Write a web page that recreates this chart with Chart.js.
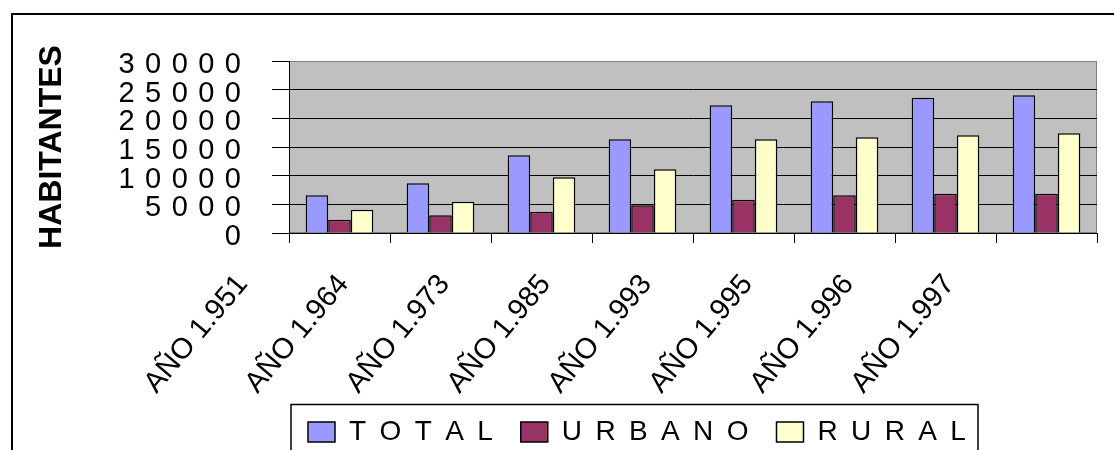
<!DOCTYPE html>
<html>
<head>
<meta charset="utf-8">
<script src="https://cdn.jsdelivr.net/npm/chart.js@4"></script>
<style>
  body { margin: 0; background: #fff; }
</style>
</head>
<body>
<canvas id="chart" width="1114" height="450"></canvas>
<script>
// categories and series
const years = ['AÑO 1.951', 'AÑO 1.964', 'AÑO 1.973', 'AÑO 1.985', 'AÑO 1.993', 'AÑO 1.995', 'AÑO 1.996', 'AÑO 1.997'];
const total = [6570, 8660, 13550, 16340, 22270, 22970, 23600, 24010];
const urbano = [2330, 3080, 3720, 4830, 5810, 6570, 6860, 6860];
const rural = [4070, 5470, 9710, 11100, 16340, 16690, 17030, 17380];
const seriesNames = ['TOTAL', 'URBANO', 'RURAL'];
const yMax = 30000;
const yStep = 5000;
const yTitle = 'HABITANTES';

const FONT = "Arial, 'Liberation Sans', sans-serif";
Chart.defaults.font.family = FONT;
Chart.defaults.color = '#000';

// Excel draws these labels with wide character spacing
const spaced = (s, gap) => String(s).split('').join(gap);

// gray plot area, outer frame and legend frame
const frame = {
  id: 'frame',
  beforeDraw(chart) {
    const { ctx, chartArea: a } = chart;
    ctx.save();
    ctx.fillStyle = '#fff';
    ctx.fillRect(0, 0, chart.width, chart.height);
    ctx.fillStyle = '#c0c0c0';
    ctx.fillRect(a.left, a.top, a.right - a.left, a.bottom - a.top);
    ctx.strokeStyle = '#808080';
    ctx.lineWidth = 1;
    ctx.strokeRect(a.left + 0.5, a.top + 0.5, a.right - a.left - 1, a.bottom - a.top - 1);
    ctx.restore();
  },
  afterLayout(chart) {
    // the legend sits left of centre and overlaps the label band in the original
    const lg = chart.legend;
    const h = lg.bottom - lg.top;
    lg.left = 280;
    lg.top = 390;
    lg.bottom = 390 + h;
  },
  afterDraw(chart) {
    const ctx = chart.ctx;
    ctx.save();
    ctx.strokeStyle = '#000';
    ctx.lineWidth = 2;
    ctx.strokeRect(12, 14, 1120, 470);
    ctx.lineWidth = 1.5;
    ctx.strokeRect(291, 404.5, 687, 80);
    ctx.restore();
  }
};

const ctx = document.getElementById('chart').getContext('2d');
new Chart(ctx, {
  type: 'bar',
  data: {
    labels: years,
    datasets: [
      { label: seriesNames[0], data: total, backgroundColor: '#9999ff' },
      { label: seriesNames[1], data: urbano, backgroundColor: '#993366' },
      { label: seriesNames[2], data: rural, backgroundColor: '#ffffcc' }
    ]
  },
  options: {
    responsive: false,
    animation: false,
    layout: { padding: { left: 0, top: 61, right: 17, bottom: -30 } },
    datasets: {
      bar: {
        borderColor: '#000',
        borderWidth: 1.5,
        categoryPercentage: 0.67,
        barPercentage: 1.0
      }
    },
    plugins: {
      tooltip: { enabled: false },
      legend: {
        position: 'bottom',
        align: 'start',
        labels: {
          boxWidth: 27,
          boxHeight: 20,
          padding: 28,
          font: { size: 28 },
          color: '#000',
          generateLabels(chart) {
            const items = Chart.defaults.plugins.legend.labels.generateLabels(chart);
            items.forEach(it => { it.text = spaced(it.text, ' \u2009'); });
            return items;
          }
        }
      }
    },
    scales: {
      x: {
        grid: { drawOnChartArea: false, color: '#000', tickLength: 10, offset: true },
        border: { color: '#000', width: 1 },
        ticks: {
          font: { size: 29 },
          color: '#000',
          minRotation: 50,
          maxRotation: 50,
          autoSkip: false,
          padding: 25,
          labelOffset: -97
        },
        afterFit(axis) { axis.height = 181; }
      },
      y: {
        min: 0,
        max: yMax,
        grid: {
          color: c => (c.tick && c.tick.value === yMax ? '#808080' : '#000'),
          tickColor: '#000',
          tickLength: 17
        },
        border: { color: '#000', width: 1 },
        ticks: {
          stepSize: yStep,
          autoSkip: false,
          font: { size: 29 },
          color: '#000',
          padding: 31,
          labelOffset: 4,
          callback: v => spaced(v, ' \u200A')
        },
        title: {
          display: true,
          text: yTitle,
          font: { size: 32, weight: 'bold' },
          color: '#000',
          padding: { top: 33, bottom: 0 }
        },
        afterFit(axis) { axis.width = 289; }
      }
    }
  },
  plugins: [frame]
});
</script>
</body>
</html>
